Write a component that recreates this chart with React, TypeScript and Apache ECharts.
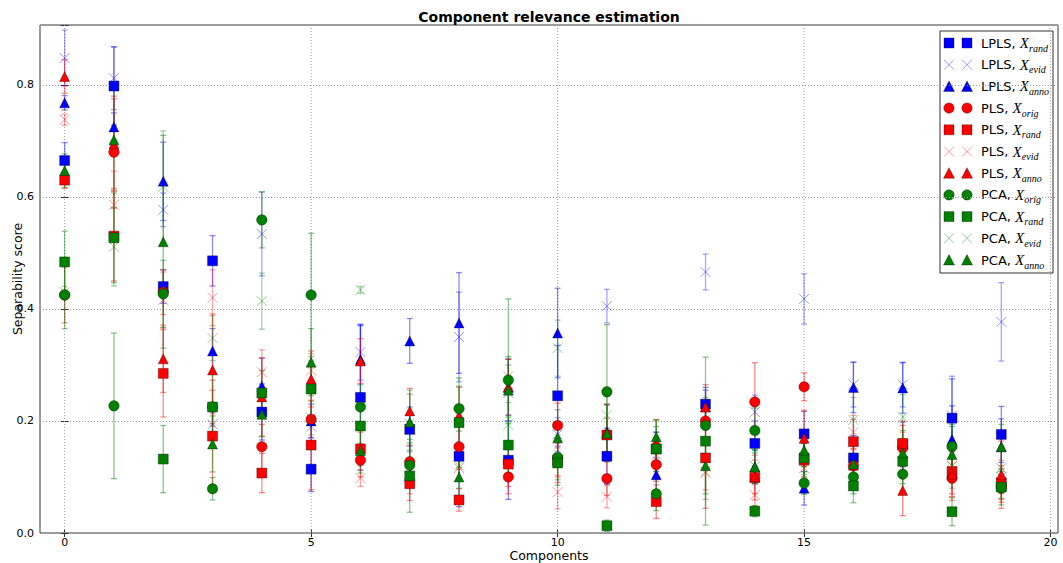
import React, { useEffect, useRef } from "react";
import * as echarts from "echarts";

const components = [0, 1, 2, 3, 4, 5, 6, 7, 8, 9, 10, 11, 12, 13, 14, 15, 16, 17, 18, 19];
const xTicks = [0, 5, 10, 15, 20];

const lplsRand = [0.665, 0.798, 0.44, 0.486, 0.216, 0.114, 0.242, 0.185, 0.137, 0.13, 0.245, 0.137, 0.15, 0.23, 0.16, 0.177, 0.134, 0.158, 0.205, 0.176];
const lplsRandErr = [0.032, 0.07, 0.03, 0.045, 0.05, 0.04, 0.13, 0.03, 0.09, 0.07, 0.09, 0.05, 0.03, 0.03, 0.04, 0.04, 0.04, 0.04, 0.07, 0.05];
const lplsEvid = [0.848, 0.812, 0.577, 0.194, 0.534, 0.19, 0.323, 0.185, 0.35, 0.25, 0.176, 0.405, 0.15, 0.466, 0.216, 0.418, 0.265, 0.265, 0.21, 0.377];
const lplsEvidErr = [0.05, 0.056, 0.03, 0.02, 0.075, 0.02, 0.05, 0.04, 0.08, 0.05, 0.03, 0.03, 0.03, 0.032, 0.03, 0.045, 0.04, 0.04, 0.07, 0.07];
const lplsAnno = [0.768, 0.725, 0.628, 0.325, 0.262, 0.2, 0.31, 0.343, 0.375, 0.26, 0.357, 0.18, 0.104, 0.225, 0.118, 0.08, 0.26, 0.259, 0.167, 0.154];
const lplsAnnoErr = [0.013, 0.025, 0.07, 0.04, 0.05, 0.03, 0.06, 0.04, 0.09, 0.05, 0.08, 0.05, 0.03, 0.03, 0.03, 0.03, 0.045, 0.045, 0.06, 0.05];
const plsOrig = [0.425, 0.68, 0.43, 0.225, 0.154, 0.203, 0.13, 0.127, 0.154, 0.1, 0.192, 0.097, 0.122, 0.2, 0.234, 0.261, 0.12, 0.152, 0.098, 0.085];
const plsOrigErr = [0.05, 0.1, 0.04, 0.03, 0.04, 0.05, 0.03, 0.03, 0.04, 0.03, 0.04, 0.03, 0.03, 0.03, 0.07, 0.025, 0.03, 0.04, 0.04, 0.03];
const plsRand = [0.63, 0.53, 0.285, 0.173, 0.107, 0.157, 0.15, 0.088, 0.059, 0.123, 0.13, 0.175, 0.056, 0.134, 0.099, 0.13, 0.163, 0.16, 0.11, 0.09];
const plsRandErr = [0.015, 0.08, 0.078, 0.1, 0.035, 0.08, 0.03, 0.03, 0.02, 0.04, 0.03, 0.03, 0.03, 0.09, 0.04, 0.03, 0.04, 0.04, 0.04, 0.03];
const plsEvid = [0.738, 0.586, 0.416, 0.42, 0.287, 0.29, 0.098, 0.1, 0.116, 0.28, 0.073, 0.065, 0.14, 0.107, 0.068, 0.116, 0.18, 0.15, 0.12, 0.1];
const plsEvidErr = [0.01, 0.06, 0.05, 0.05, 0.04, 0.03, 0.015, 0.03, 0.02, 0.03, 0.03, 0.02, 0.03, 0.03, 0.02, 0.02, 0.03, 0.03, 0.03, 0.03];
const plsAnno = [0.815, 0.695, 0.311, 0.291, 0.243, 0.275, 0.307, 0.218, 0.21, 0.261, 0.13, 0.18, 0.163, 0.225, 0.1, 0.169, 0.121, 0.076, 0.105, 0.104];
const plsAnnoErr = [0.03, 0.08, 0.06, 0.1, 0.07, 0.05, 0.04, 0.04, 0.05, 0.05, 0.04, 0.05, 0.04, 0.04, 0.03, 0.05, 0.04, 0.045, 0.04, 0.06];
const pcaOrig = [0.425, 0.227, 0.427, 0.079, 0.559, 0.425, 0.225, 0.121, 0.222, 0.273, 0.135, 0.252, 0.07, 0.192, 0.183, 0.089, 0.1, 0.105, 0.154, 0.08];
const pcaOrigErr = [0.06, 0.13, 0.06, 0.02, 0.05, 0.11, 0.04, 0.04, 0.04, 0.145, 0.04, 0.12, 0.03, 0.05, 0.04, 0.02, 0.03, 0.03, 0.04, 0.03];
const pcaRand = [0.484, 0.527, 0.132, 0.225, 0.25, 0.257, 0.191, 0.102, 0.197, 0.157, 0.125, 0.013, 0.15, 0.164, 0.039, 0.134, 0.084, 0.128, 0.038, 0.082];
const pcaRandErr = [0.055, 0.08, 0.06, 0.06, 0.04, 0.05, 0.05, 0.065, 0.08, 0.05, 0.04, 0.01, 0.04, 0.15, 0.01, 0.03, 0.03, 0.04, 0.025, 0.02];
const pcaEvid = [0.43, 0.511, 0.618, 0.348, 0.414, 0.205, 0.434, 0.195, 0.12, 0.193, 0.33, 0.21, 0.15, 0.11, 0.12, 0.13, 0.202, 0.207, 0.12, 0.116];
const pcaEvidErr = [0.01, 0.07, 0.1, 0.04, 0.05, 0.03, 0.006, 0.06, 0.04, 0.04, 0.05, 0.04, 0.05, 0.05, 0.03, 0.03, 0.04, 0.04, 0.04, 0.04];
const pcaAnno = [0.647, 0.702, 0.52, 0.159, 0.212, 0.305, 0.147, 0.198, 0.1, 0.255, 0.17, 0.178, 0.172, 0.12, 0.118, 0.148, 0.123, 0.143, 0.14, 0.154];
const pcaAnnoErr = [0.03, 0.09, 0.19, 0.05, 0.04, 0.06, 0.04, 0.05, 0.04, 0.06, 0.05, 0.05, 0.03, 0.05, 0.03, 0.03, 0.04, 0.04, 0.05, 0.04];

const BLUE = "0,0,255";
const RED = "255,0,0";
const GREEN = "0,128,0";

type Marker = "square" | "circle" | "triangle" | "cross";
const seriesMeta: { method: string; sub: string; values: number[]; errors: number[]; rgb: string; marker: Marker }[] = [
  { method: "LPLS", sub: "rand", values: lplsRand, errors: lplsRandErr, rgb: BLUE, marker: "square" },
  { method: "LPLS", sub: "evid", values: lplsEvid, errors: lplsEvidErr, rgb: BLUE, marker: "cross" },
  { method: "LPLS", sub: "anno", values: lplsAnno, errors: lplsAnnoErr, rgb: BLUE, marker: "triangle" },
  { method: "PLS", sub: "orig", values: plsOrig, errors: plsOrigErr, rgb: RED, marker: "circle" },
  { method: "PLS", sub: "rand", values: plsRand, errors: plsRandErr, rgb: RED, marker: "square" },
  { method: "PLS", sub: "evid", values: plsEvid, errors: plsEvidErr, rgb: RED, marker: "cross" },
  { method: "PLS", sub: "anno", values: plsAnno, errors: plsAnnoErr, rgb: RED, marker: "triangle" },
  { method: "PCA", sub: "orig", values: pcaOrig, errors: pcaOrigErr, rgb: GREEN, marker: "circle" },
  { method: "PCA", sub: "rand", values: pcaRand, errors: pcaRandErr, rgb: GREEN, marker: "square" },
  { method: "PCA", sub: "evid", values: pcaEvid, errors: pcaEvidErr, rgb: GREEN, marker: "cross" },
  { method: "PCA", sub: "anno", values: pcaAnno, errors: pcaAnnoErr, rgb: GREEN, marker: "triangle" },
];

const EDGE = "rgba(0,0,0,0.55)";
const CROSS_PATH = "path://M0,0L10,10M10,0L0,10";

function symbolFor(m: Marker) {
  if (m === "square") return "rect";
  if (m === "circle") return "circle";
  if (m === "triangle") return "triangle";
  return CROSS_PATH;
}

function legendMarker(m: Marker, rgb: string, cx: number, cy: number): any[] {
  const fill = `rgb(${rgb})`;
  if (m === "square")
    return [{ type: "rect", shape: { x: cx - 5, y: cy - 5, width: 10, height: 10 }, style: { fill, stroke: EDGE, lineWidth: 0.6 } }];
  if (m === "circle")
    return [{ type: "circle", shape: { cx, cy, r: 5.2 }, style: { fill, stroke: EDGE, lineWidth: 0.6 } }];
  if (m === "triangle")
    return [{ type: "polygon", shape: { points: [[cx, cy - 5.5], [cx + 5.5, cy + 5], [cx - 5.5, cy + 5]] }, style: { fill, stroke: EDGE, lineWidth: 0.6 } }];
  const stroke = `rgba(${rgb},0.4)`;
  return [
    { type: "line", shape: { x1: cx - 5, y1: cy - 5, x2: cx + 5, y2: cy + 5 }, style: { stroke, lineWidth: 1 } },
    { type: "line", shape: { x1: cx - 5, y1: cy + 5, x2: cx + 5, y2: cy - 5 }, style: { stroke, lineWidth: 1 } },
  ];
}

export default function App() {
  const ref = useRef<HTMLDivElement>(null);
  useEffect(() => {
    if (!ref.current) return;
    const chart = echarts.init(ref.current, undefined, { renderer: "svg" });

    const series: any[] = [];
    series.push({
      type: "custom",
      silent: true,
      z: 1,
      data: xTicks.map((v) => [v, 0]),
      encode: { x: 0, y: 1 },
      renderItem: (params: any, api: any) => {
        const p = api.coord([api.value(0), 0]);
        const cs = params.coordSys;
        return {
          type: "line",
          shape: { x1: p[0], y1: cs.y, x2: p[0], y2: cs.y + cs.height },
          style: { stroke: "#9a9a9a", lineWidth: 1, lineDash: [1, 2] },
        };
      },
    });

    seriesMeta.forEach((m) => {
      const isCross = m.marker === "cross";
      const barColor = `rgba(${m.rgb},${isCross ? 0.35 : 0.45})`;
      series.push({
        type: "custom",
        name: `${m.method}, X_${m.sub} err`,
        silent: true,
        clip: true,
        z: 2,
        data: components.map((c, i) => [c, m.values[i] - m.errors[i], m.values[i] + m.errors[i]]),
        encode: { x: 0, y: [1, 2] },
        renderItem: (params: any, api: any) => {
          const x = api.value(0);
          const lo = api.coord([x, api.value(1)]);
          const hi = api.coord([x, api.value(2)]);
          const cw = 3;
          const style = { stroke: barColor, lineWidth: 1.3 };
          return {
            type: "group",
            children: [
              { type: "line", shape: { x1: lo[0], y1: lo[1], x2: hi[0], y2: hi[1] }, style },
              { type: "line", shape: { x1: lo[0] - cw, y1: lo[1], x2: lo[0] + cw, y2: lo[1] }, style },
              { type: "line", shape: { x1: hi[0] - cw, y1: hi[1], x2: hi[0] + cw, y2: hi[1] }, style },
            ],
          };
        },
      });
      series.push({
        type: "scatter",
        name: `${m.method}, X_${m.sub}`,
        z: 2,
        silent: true,
        symbol: symbolFor(m.marker),
        symbolSize: m.marker === "circle" ? 10.5 : 10,
        data: components.map((c, i) => [c, m.values[i]]),
        itemStyle: isCross
          ? { color: "rgba(0,0,0,0)", borderColor: `rgba(${m.rgb},0.4)`, borderWidth: 1, opacity: 1 }
          : { color: `rgb(${m.rgb})`, borderColor: EDGE, borderWidth: 0.6, opacity: 1 },
      });
    });

    const graphic: any[] = [];
    graphic.push({
      type: "text",
      x: 549,
      y: 17,
      style: { text: "Component relevance estimation", fontFamily: "DejaVu Sans", fontWeight: "bold", fontSize: 14, fill: "#000", align: "center", verticalAlign: "middle" },
    });
    graphic.push({
      type: "text",
      x: 549,
      y: 555,
      style: { text: "Components", fontFamily: "DejaVu Sans", fontSize: 12.5, fill: "#000", align: "center", verticalAlign: "middle" },
    });
    graphic.push({
      type: "text",
      x: 17,
      y: 279,
      rotation: Math.PI / 2,
      style: { text: "Separability score", fontFamily: "DejaVu Sans", fontSize: 12.5, fill: "#000", align: "center", verticalAlign: "middle" },
    });

    const legendChildren: any[] = [
      { type: "rect", shape: { x: 940, y: 31, width: 113, height: 242 }, style: { fill: "#fff", stroke: "#333", lineWidth: 1 } },
    ];
    seriesMeta.forEach((m, i) => {
      const cy = 43 + i * 21.7;
      legendChildren.push(...legendMarker(m.marker, m.rgb, 949, cy));
      legendChildren.push(...legendMarker(m.marker, m.rgb, 967, cy));
      legendChildren.push({
        type: "text",
        x: 981,
        y: cy,
        style: {
          text: `{a|${m.method}, }{x|X}{s|${m.sub}}`,
          align: "left",
          verticalAlign: "middle",
          rich: {
            a: { fontFamily: "DejaVu Sans", fontSize: 13, fill: "#000", lineHeight: 20, verticalAlign: "middle" },
            x: { fontFamily: "Liberation Serif", fontStyle: "italic", fontSize: 15, fill: "#000", lineHeight: 20, verticalAlign: "middle" },
            s: { fontFamily: "Liberation Serif", fontStyle: "italic", fontSize: 10, fill: "#000", lineHeight: 10, verticalAlign: "bottom" },
          },
        },
      });
    });
    graphic.push({ type: "group", z: 100, children: legendChildren });

    const yFmt = (v: number) => (Math.abs(v * 5 - Math.round(v * 5)) < 1e-6 ? v.toFixed(1) : "");

    const option: any = {
      animation: false,
      backgroundColor: "#fff",
      grid: { left: 40, right: 5, top: 25, bottom: 30, show: true, borderColor: "#3a3a3a", borderWidth: 1, backgroundColor: "rgba(0,0,0,0)" },
      xAxis: [
        {
          type: "value",
          min: -0.5,
          max: 20.15,
          position: "bottom",
          axisLine: { show: false },
          splitLine: { show: false },
          axisTick: { show: true, inside: true, length: 4, customValues: xTicks, lineStyle: { color: "#333" } },
          axisLabel: { customValues: xTicks, color: "#000", fontSize: 11, fontFamily: "DejaVu Sans", margin: 4 },
        },
        {
          type: "value",
          min: -0.5,
          max: 20.15,
          position: "top",
          axisLine: { show: false },
          splitLine: { show: false },
          axisTick: { show: true, inside: true, length: 4, customValues: xTicks, lineStyle: { color: "#333" } },
          axisLabel: { show: false },
        },
      ],
      yAxis: [
        {
          type: "value",
          min: 0,
          max: 0.907,
          interval: 0.2,
          position: "left",
          axisLine: { show: false },
          axisTick: { show: true, inside: true, length: 4, lineStyle: { color: "#333" } },
          axisLabel: { formatter: yFmt, color: "#000", fontSize: 11, fontFamily: "DejaVu Sans", margin: 6 },
          splitLine: { show: true, lineStyle: { type: [1, 2], color: "#9a9a9a", width: 1 } },
        },
        {
          type: "value",
          min: 0,
          max: 0.907,
          interval: 0.2,
          position: "right",
          axisLine: { show: false },
          axisTick: { show: true, inside: true, length: 4, lineStyle: { color: "#333" } },
          axisLabel: { show: false },
          splitLine: { show: false },
        },
      ],
      series,
      graphic,
    };
    chart.setOption(option);
    return () => chart.dispose();
  }, []);

  return <div ref={ref} style={{ position: "fixed", left: 0, top: 0, width: 1063, height: 563, background: "#fff" }} />;
}
